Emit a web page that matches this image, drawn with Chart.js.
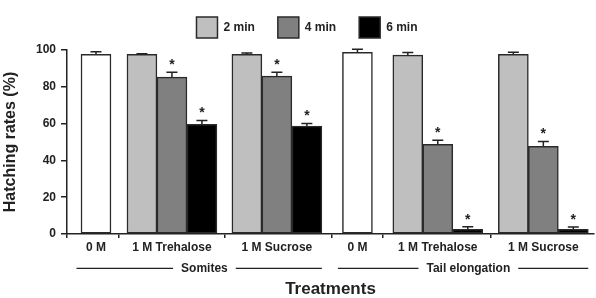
<!DOCTYPE html>
<html><head><meta charset="utf-8">
<script src="https://cdn.jsdelivr.net/npm/chart.js@4.4.1/dist/chart.umd.min.js"></script>
<style>html,body{margin:0;padding:0;background:#fff;}canvas{display:block;}</style>
</head><body>
<canvas id="c" width="596" height="298"></canvas>
<script>
// ---------- data ----------
const categories = ['0 M', '1 M Trehalose', '1 M Sucrose', '0 M', '1 M Trehalose', '1 M Sucrose'];
const stages = ['Somites', 'Tail elongation'];
const stageOf = [0, 0, 0, 1, 1, 1];
const controlName = '0 M';
const seriesNames = ['2 min', '4 min', '6 min'];
const controlValues = [97.7, null, null, 98.8, null, null];
const controlErrors = [1.4, null, null, 1.6, null, null];
const min2Values = [null, 97.7, 97.7, null, 97.2, 97.7];
const min2Errors = [null, 0.3, 0.7, null, 1.4, 1.1];
const min4Values = [null, 85.3, 85.8, null, 48.8, 47.7];
const min4Errors = [null, 2.6, 2.1, null, 2.1, 2.6];
const min6Values = [null, 59.6, 58.6, null, 2.6, 2.6];
const min6Errors = [null, 2.1, 1.5, null, 1.3, 1.2];
const min2Significant = [false, false, false, false, false, false];
const min4Significant = [false, true, true, false, true, true];
const min6Significant = [false, true, true, false, true, true];
const yTickValues = [0, 20, 40, 60, 80, 100];
const yTitle = 'Hatching rates (%)';
const xTitle = 'Treatments';

// ---------- layout (in bar-width units) ----------
const GAPS = [0.467, 0.533, 0.5, 0.687, 0.68, 0.52];
const X_MAX = 17.577;
const FONT = "'Liberation Sans', Arial, sans-serif";
const INK = '#222';

const barCount = categories.map((c, i) => controlValues[i] != null ? 1 : seriesNames.length);
const starts = [], ends = [];
let cur = 0;
categories.forEach((c, i) => { cur += GAPS[i]; starts.push(cur); cur += barCount[i]; ends.push(cur); });
const centers = starts.map((s, i) => (s + ends[i]) / 2);
const boundaries = [0];
for (let i = 1; i < categories.length; i++) boundaries.push((ends[i - 1] + starts[i]) / 2);
const stageSpans = stages.map((s, k) => {
  const idx = stageOf.map((v, i) => v === k ? i : -1).filter(i => i >= 0);
  return { start: starts[idx[0]], end: ends[idx[idx.length - 1]] };
});
const stageCenters = stageSpans.map(sp => (sp.start + sp.end) / 2 + 0.1);

function makeDataset(label, values, errors, sig, offset, color) {
  const data = [], errs = [], sigs = [];
  values.forEach((v, i) => {
    if (v == null) return;
    data.push({ x: starts[i] + offset + 0.5, y: v });
    errs.push(errors[i]);
    sigs.push(sig ? sig[i] : false);
  });
  return {
    label, data, errors: errs, sig: sigs,
    backgroundColor: color, borderColor: '#2a2a2a', borderWidth: 1.5, borderSkipped: false,
    barPercentage: 1, categoryPercentage: 1, grouped: false, xAxisID: 'x', yAxisID: 'y'
  };
}

const datasets = [
  makeDataset(controlName, controlValues, controlErrors, null, 0, '#ffffff'),
  makeDataset(seriesNames[0], min2Values, min2Errors, min2Significant, 0, '#bfbfbf'),
  makeDataset(seriesNames[1], min4Values, min4Errors, min4Significant, 1, '#808080'),
  makeDataset(seriesNames[2], min6Values, min6Errors, min6Significant, 2, '#000000')
];

const errorBars = {
  id: 'errorBars',
  afterDatasetsDraw(chart) {
    const ctx = chart.ctx, y = chart.scales.y;
    ctx.save();
    ctx.strokeStyle = INK; ctx.lineWidth = 1.5; ctx.fillStyle = INK;
    ctx.font = 'bold 14px ' + FONT; ctx.textAlign = 'center'; ctx.textBaseline = 'alphabetic';
    chart.data.datasets.forEach((ds, di) => {
      const meta = chart.getDatasetMeta(di);
      meta.data.forEach((el, j) => {
        const p = ds.data[j];
        const top = y.getPixelForValue(p.y + ds.errors[j]);
        ctx.beginPath();
        ctx.moveTo(el.x, el.y); ctx.lineTo(el.x, top);
        ctx.moveTo(el.x - 5.5, top); ctx.lineTo(el.x + 5.5, top);
        ctx.stroke();
        if (ds.sig[j]) ctx.fillText('*', el.x, top - 3);
      });
    });
    ctx.restore();
  }
};

const stageLines = {
  id: 'stageLines',
  afterDraw(chart) {
    const s = chart.scales.xg, ctx = chart.ctx;
    const y = s.top + 4.7 + 7.2;
    ctx.save();
    ctx.font = 'bold 12px ' + FONT;
    ctx.strokeStyle = INK; ctx.lineWidth = 1.2;
    stages.forEach((name, k) => {
      const cx = s.getPixelForValue(stageCenters[k]);
      const w = ctx.measureText(name).width;
      const x0 = s.getPixelForValue(stageSpans[k].start - 0.15);
      const x1 = s.getPixelForValue(stageSpans[k].end);
      ctx.beginPath();
      ctx.moveTo(x0, y); ctx.lineTo(cx - w / 2 - 8, y);
      ctx.moveTo(cx + w / 2 + 8, y); ctx.lineTo(x1, y);
      ctx.stroke();
    });
    ctx.restore();
  }
};

const legendShift = {
  id: 'legendShift',
  afterLayout(chart) {
    const l = chart.legend;
    l.left += 10; l.right += 10; l.top -= 2; l.bottom -= 2;
  }
};

Chart.defaults.font.family = FONT;
Chart.defaults.color = INK;

new Chart(document.getElementById('c'), {
  type: 'bar',
  data: { datasets },
  plugins: [errorBars, stageLines, legendShift],
  options: {
    responsive: false, animation: false, devicePixelRatio: 1,
    layout: { padding: { top: -4, right: 2, left: 0, bottom: 0 } },
    plugins: {
      legend: {
        position: 'top',
        labels: {
          boxWidth: 21, boxHeight: 21, padding: 23, color: INK,
          font: { size: 12, weight: 'bold' },
          filter: item => item.datasetIndex > 0
        }
      },
      tooltip: { enabled: false }
    },
    scales: {
      x: {
        type: 'linear', position: 'bottom', min: 0, max: X_MAX, bounds: 'data', weight: 0, offset: false,
        afterBuildTicks: s => { s.ticks = boundaries.map(v => ({ value: v })); },
        ticks: { display: false },
        grid: { display: true, offset: false, drawOnChartArea: false, drawTicks: true, tickLength: 4, color: INK, lineWidth: 1.5 },
        border: { display: true, color: INK, width: 1.5 }
      },
      xl: {
        type: 'linear', position: 'bottom', min: 0, max: X_MAX, bounds: 'data', weight: 1, offset: false,
        afterBuildTicks: s => { s.ticks = centers.map(v => ({ value: v })); },
        ticks: { autoSkip: false, maxRotation: 0, padding: 2, color: INK, font: { size: 12, weight: 'bold' },
          callback: (v, i) => categories[i] },
        grid: { display: false, offset: false, drawTicks: false },
        border: { display: false }
      },
      xg: {
        type: 'linear', position: 'bottom', min: 0, max: X_MAX, bounds: 'data', weight: 2, offset: false,
        afterBuildTicks: s => { s.ticks = stageCenters.map(v => ({ value: v })); },
        ticks: { autoSkip: false, maxRotation: 0, padding: 4.7, color: INK, font: { size: 12, weight: 'bold' },
          callback: (v, i) => stages[i] },
        grid: { display: false, offset: false, drawTicks: false },
        border: { display: false },
        title: { display: true, text: xTitle, color: INK, font: { size: 17, weight: 'bold', lineHeight: 1 },
          padding: { top: 0.8, bottom: 0 } }
      },
      y: {
        type: 'linear', min: 0, max: 100, bounds: 'data',
        afterBuildTicks: s => { s.ticks = yTickValues.map(v => ({ value: v })); },
        afterFit: s => { s.width = 67; },
        ticks: { padding: 5, color: INK, font: { size: 12, weight: 'bold' } },
        grid: { drawOnChartArea: false, drawTicks: true, tickLength: 6, color: INK, lineWidth: 1.5 },
        border: { display: true, color: INK, width: 1.5 },
        title: { display: true, text: yTitle, color: INK, font: { size: 16, weight: 'bold', lineHeight: 1.1 },
          padding: { top: 2, bottom: 0 } }
      }
    }
  }
});
</script>
</body></html>
